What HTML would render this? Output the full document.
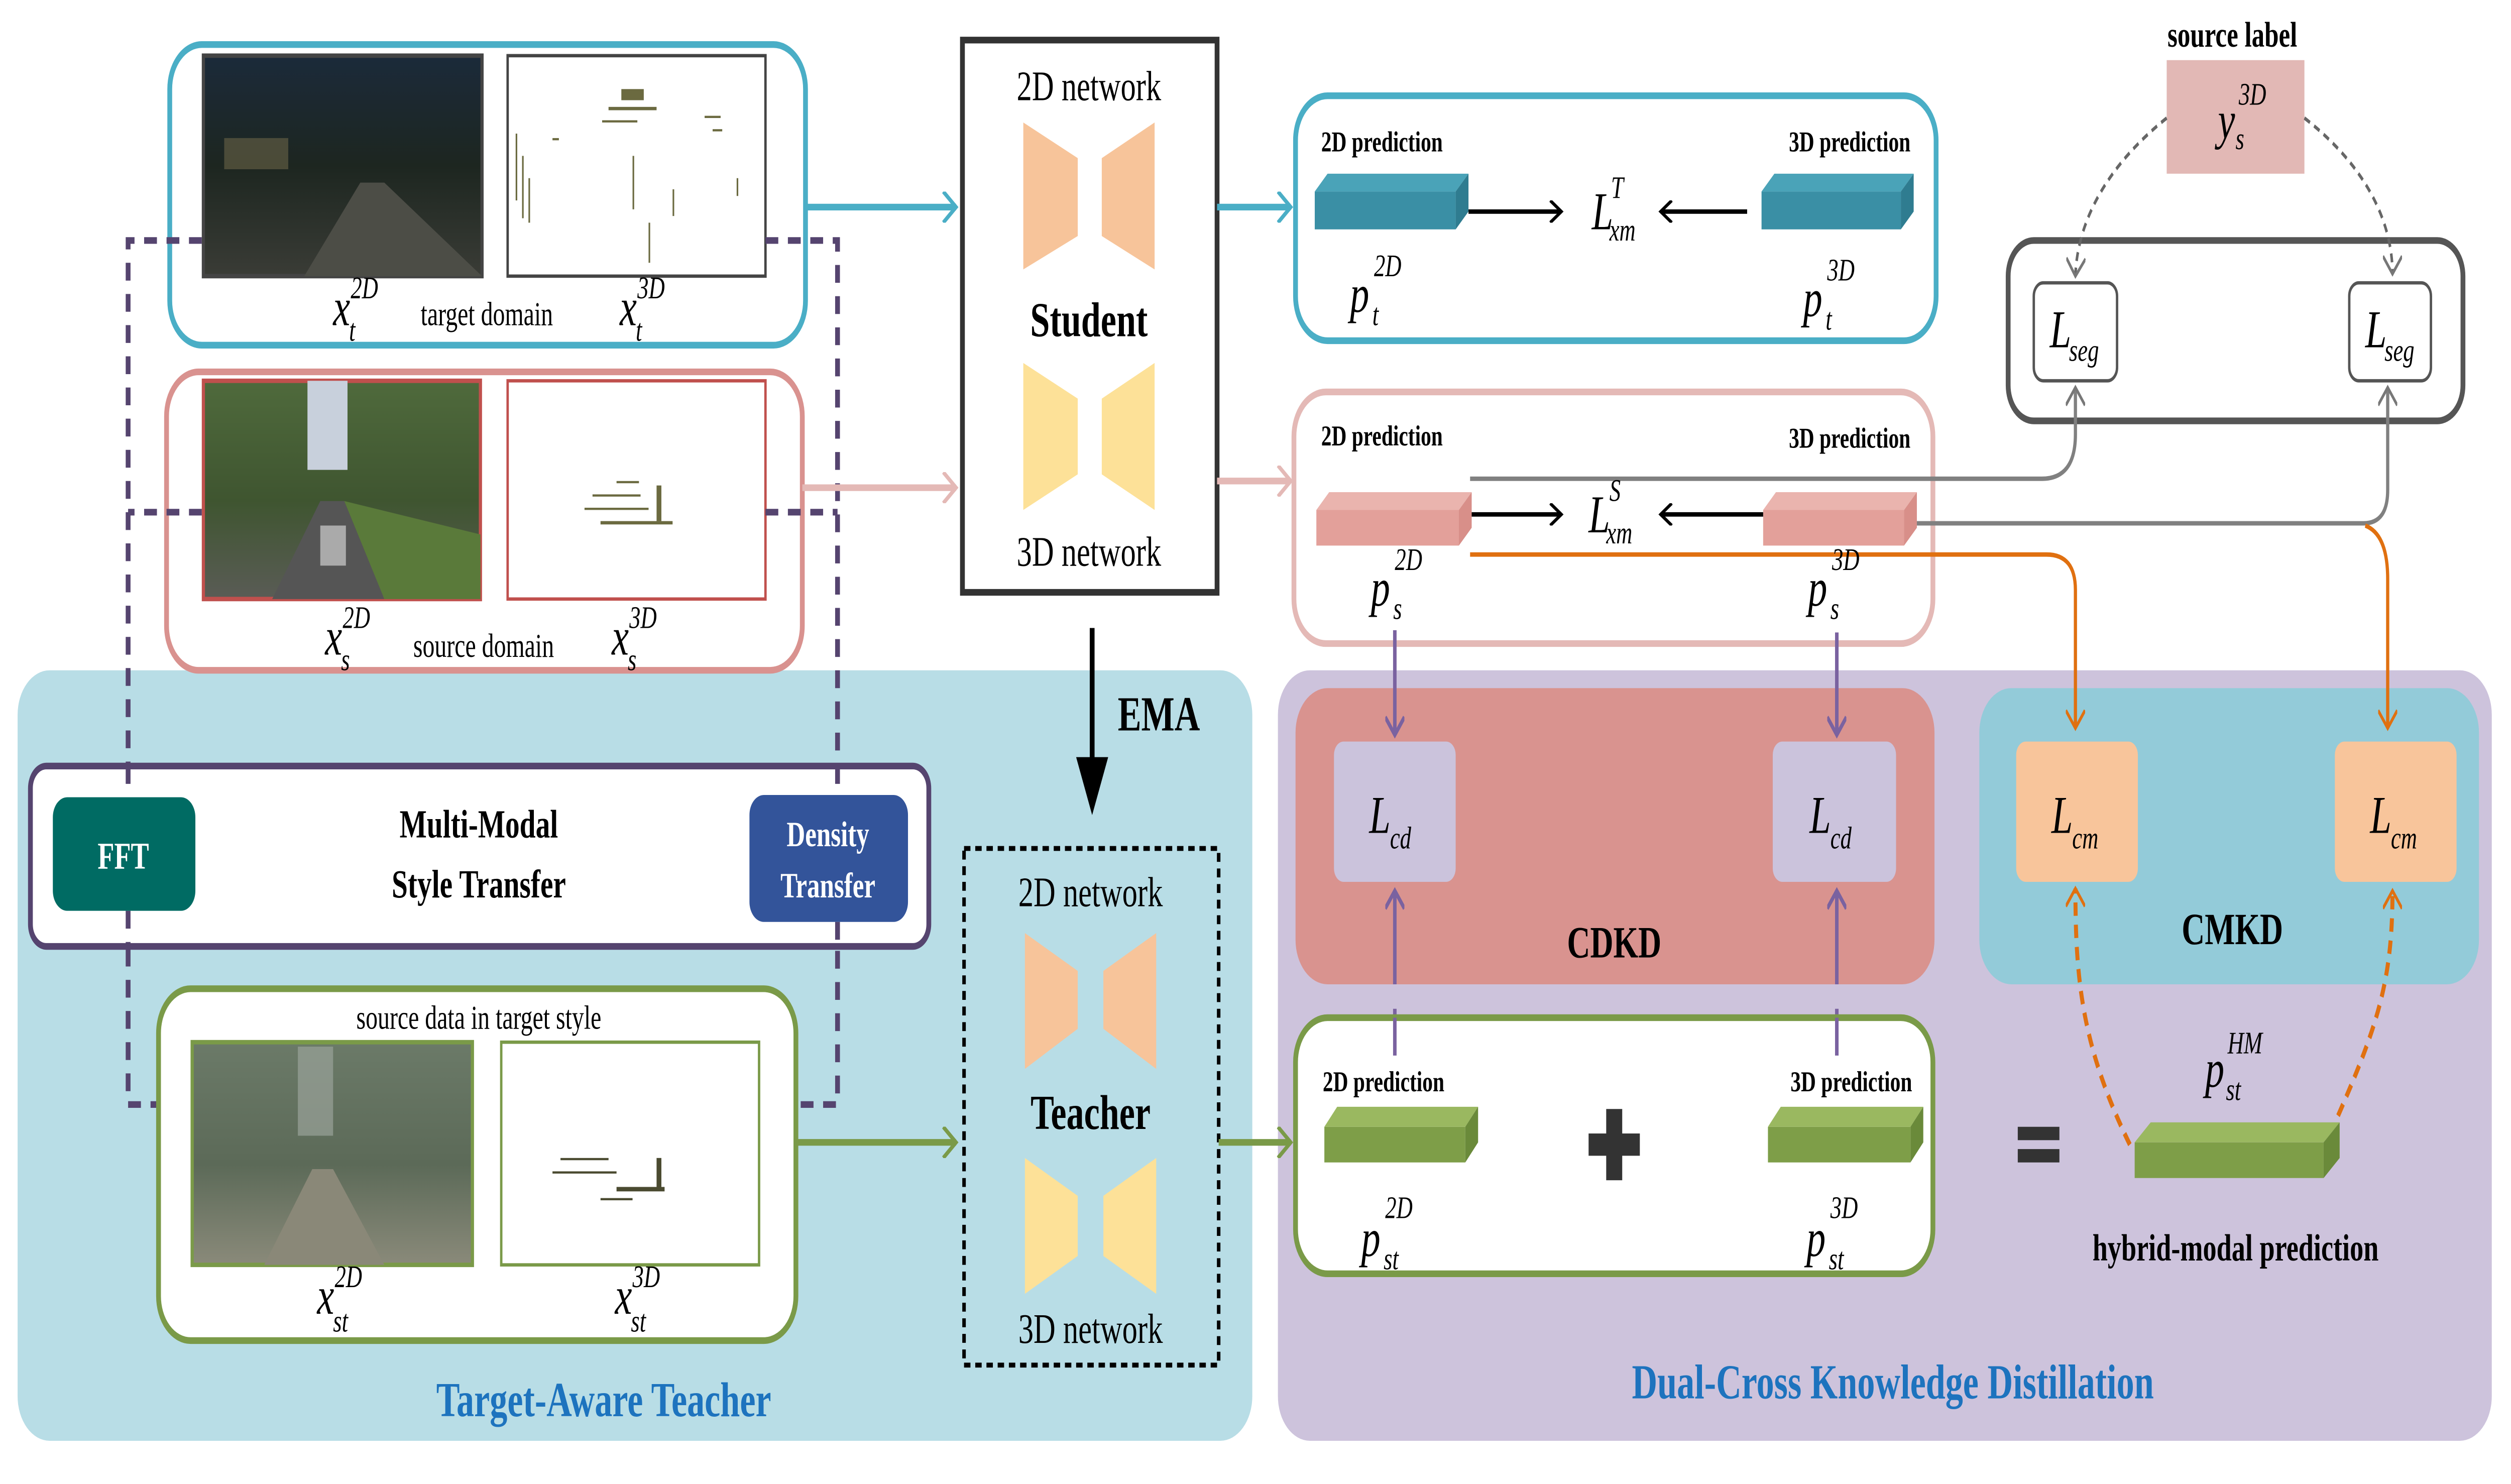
<!DOCTYPE html>
<html><head><meta charset="utf-8"><style>
html,body{margin:0;padding:0;background:#fff;width:100%;height:100%;overflow:hidden}
svg{display:block;width:100vw;height:100vh}
text{font-family:"Liberation Serif",serif}
.m{font-style:italic;font-size:24px}
.s{font-style:italic;font-size:14px}
.b{font-weight:bold}
</style></head><body>
<svg viewBox="0 0 1568 666.4" preserveAspectRatio="none" xmlns="http://www.w3.org/2000/svg">
<defs>
<marker id="ab" markerWidth="10" markerHeight="10" refX="8" refY="5" orient="auto" markerUnits="userSpaceOnUse"><path d="M1,0 L8,5 L1,10" fill="none" stroke="#000" stroke-width="1.6"/></marker>
<marker id="at" markerWidth="12" markerHeight="14" refX="9" refY="7" orient="auto" markerUnits="userSpaceOnUse"><path d="M1,0 L9,7 L1,14" fill="none" stroke="#4aaec6" stroke-width="2"/></marker>
<marker id="ap" markerWidth="12" markerHeight="14" refX="9" refY="7" orient="auto" markerUnits="userSpaceOnUse"><path d="M1,0 L9,7 L1,14" fill="none" stroke="#e4b9b6" stroke-width="2"/></marker>
<marker id="ag" markerWidth="12" markerHeight="14" refX="9" refY="7" orient="auto" markerUnits="userSpaceOnUse"><path d="M1,0 L9,7 L1,14" fill="none" stroke="#7a9a48" stroke-width="2"/></marker>
<marker id="agr" markerWidth="12" markerHeight="12" refX="9" refY="6" orient="auto" markerUnits="userSpaceOnUse"><path d="M1,0 L9,6 L1,12" fill="none" stroke="#777" stroke-width="1.5"/></marker>
<marker id="aor" markerWidth="12" markerHeight="12" refX="9" refY="6" orient="auto" markerUnits="userSpaceOnUse"><path d="M1,0 L9,6 L1,12" fill="none" stroke="#e07010" stroke-width="1.6"/></marker>
<marker id="apu" markerWidth="12" markerHeight="12" refX="9" refY="6" orient="auto" markerUnits="userSpaceOnUse"><path d="M1,0 L9,6 L1,12" fill="none" stroke="#7a62a0" stroke-width="2"/></marker>
<marker id="ada" markerWidth="12" markerHeight="14" refX="9" refY="7" orient="auto" markerUnits="userSpaceOnUse"><path d="M1,0 L9,7 L1,14" fill="none" stroke="#55446f" stroke-width="2.5"/></marker>
<linearGradient id="night" x1="0" y1="0" x2="0" y2="1"><stop offset="0" stop-color="#1b2a3a"/><stop offset="0.5" stop-color="#1d2620"/><stop offset="1" stop-color="#3a3c36"/></linearGradient>
<linearGradient id="day" x1="0" y1="0" x2="0" y2="1"><stop offset="0" stop-color="#4f6a3c"/><stop offset="0.55" stop-color="#3f5530"/><stop offset="1" stop-color="#5a5c56"/></linearGradient>
<linearGradient id="sty" x1="0" y1="0" x2="0" y2="1"><stop offset="0" stop-color="#6b7a68"/><stop offset="0.55" stop-color="#5c6a58"/><stop offset="1" stop-color="#8a8a7a"/></linearGradient>
</defs>

<rect x="11" y="301" width="771" height="346" rx="20" fill="#b8dde6"/>
<rect x="798" y="301" width="758" height="346" rx="20" fill="#cdc3dc"/>
<rect x="809" y="309" width="399" height="133" rx="20" fill="#d9938f"/>
<rect x="1236" y="309" width="312" height="133" rx="20" fill="#93cbd9"/>

<rect x="106" y="20" width="397" height="135" rx="20" fill="#fff" stroke="#4aaec6" stroke-width="3"/>
<rect x="127" y="25" width="174" height="99" fill="url(#night)" stroke="#444" stroke-width="2"/>
<path d="M190,124 L225,82 L240,82 L301,124Z" fill="#4c4d46"/>
<rect x="140" y="62" width="40" height="14" fill="#6b6448" opacity="0.6"/>
<rect x="317" y="25" width="161" height="99" fill="#fff" stroke="#444" stroke-width="1.5"/>
<g fill="#6b6a40">
<rect x="388" y="40" width="14" height="5"/><rect x="380" y="48" width="30" height="1.5"/><rect x="376" y="54" width="22" height="1"/>
<rect x="322" y="60" width="1" height="30"/><rect x="326" y="70" width="1" height="28"/><rect x="330" y="80" width="1" height="20"/>
<rect x="440" y="52" width="10" height="1"/><rect x="445" y="58" width="6" height="1"/><rect x="395" y="70" width="1" height="24"/><rect x="420" y="85" width="1" height="12"/>
<rect x="460" y="80" width="1" height="8"/><rect x="345" y="62" width="4" height="1"/><rect x="405" y="100" width="1" height="18"/>
</g>
<text x="304" y="146" font-size="15" text-anchor="middle">target domain</text>
<text x="208" y="146" class="m">x</text><text x="219" y="134" class="s">2D</text><text x="218" y="153" class="s">t</text>
<text x="387" y="146" class="m">x</text><text x="398" y="134" class="s">3D</text><text x="397" y="153" class="s">t</text>

<rect x="104" y="167" width="397" height="134" rx="20" fill="#fff" stroke="#d9928f" stroke-width="3"/>
<rect x="127" y="171" width="173" height="98" fill="url(#day)" stroke="#c0504d" stroke-width="2"/>
<rect x="192" y="171" width="25" height="40" fill="#c8d0dc"/>
<path d="M170,269 L200,225 L215,225 L240,269Z" fill="#555"/>
<path d="M240,269 L215,225 L300,240 L300,269Z" fill="#5a7a3a"/>
<rect x="200" y="236" width="16" height="18" fill="#aaa"/>
<rect x="317" y="171" width="161" height="98" fill="#fff" stroke="#c0504d" stroke-width="1.5"/>
<g fill="#6b6a40"><rect x="370" y="222" width="30" height="1"/><rect x="365" y="228" width="40" height="1"/><rect x="375" y="234" width="45" height="1.5"/><rect x="410" y="218" width="3" height="16"/><rect x="385" y="216" width="14" height="1"/></g>
<text x="302" y="295" font-size="15" text-anchor="middle">source domain</text>
<text x="203" y="294" class="m">x</text><text x="214" y="282" class="s">2D</text><text x="213" y="301" class="s">s</text>
<text x="382" y="294" class="m">x</text><text x="393" y="282" class="s">3D</text><text x="392" y="301" class="s">s</text>

<g stroke="#55446f" stroke-width="3" fill="none" stroke-dasharray="8,6">
<path d="M126,108 H80 V496 H116" marker-end="url(#ada)"/>
<path d="M126,230 H80"/>
<path d="M478,108 H523 V496 H480" marker-end="url(#ada)"/>
<path d="M478,230 H523"/>
</g>

<path d="M503,93 H597" stroke="#4aaec6" stroke-width="3" fill="none" marker-end="url(#at)"/>
<path d="M501,219 H597" stroke="#e4b9b6" stroke-width="3" fill="none" marker-end="url(#ap)"/>

<rect x="601" y="18" width="159" height="248" fill="#fff" stroke="#333" stroke-width="3"/>
<text x="680" y="45" font-size="19" text-anchor="middle">2D network</text>
<path d="M639,55 L673,71 L673,106 L639,121Z M721,55 L688,71 L688,106 L721,121Z" fill="#f7c49a"/>
<text x="680" y="151" font-size="22" class="b" text-anchor="middle">Student</text>
<path d="M639,163 L673,179 L673,213 L639,229Z M721,163 L688,179 L688,213 L721,229Z" fill="#fde198"/>
<text x="680" y="254" font-size="19" text-anchor="middle">3D network</text>

<path d="M682,282 V345" stroke="#000" stroke-width="3"/>
<path d="M672,340 L692,340 L682,366Z" fill="#000"/>
<text x="698" y="328" font-size="22" class="b">EMA</text>

<rect x="19" y="344" width="561" height="81" rx="10" fill="#fff" stroke="#55446f" stroke-width="3"/>
<rect x="33" y="358" width="89" height="51" rx="9" fill="#006b63"/>
<text x="77" y="390" font-size="17" fill="#fff" class="b" text-anchor="middle">FFT</text>
<rect x="468" y="357" width="99" height="57" rx="9" fill="#33549a"/>
<text x="517" y="380" font-size="16" fill="#fff" class="b" text-anchor="middle">Density</text>
<text x="517" y="403" font-size="16" fill="#fff" class="b" text-anchor="middle">Transfer</text>
<text x="299" y="376" font-size="18" class="b" text-anchor="middle">Multi-Modal</text>
<text x="299" y="403" font-size="18" class="b" text-anchor="middle">Style Transfer</text>
<g stroke="#55446f" stroke-width="3" stroke-dasharray="8,6"><path d="M80,344 V358 M80,409 V425 M523,344 V357 M523,414 V425"/></g>

<rect x="99" y="444" width="398" height="158" rx="20" fill="#fff" stroke="#7a9a48" stroke-width="3"/>
<text x="299" y="462" font-size="15" text-anchor="middle">source data in target style</text>
<rect x="120" y="468" width="175" height="100" fill="url(#sty)" stroke="#7a9a48" stroke-width="2"/>
<rect x="186" y="470" width="22" height="40" fill="#9aa29a" opacity="0.7"/>
<path d="M165,568 L195,525 L208,525 L240,568Z" fill="#8a8878"/>
<rect x="313" y="468" width="161" height="100" fill="#fff" stroke="#7a9a48" stroke-width="1.5"/>
<g fill="#4a4a30"><rect x="350" y="520" width="30" height="1"/><rect x="345" y="526" width="40" height="1"/><rect x="385" y="533" width="30" height="2"/><rect x="410" y="520" width="3" height="14"/><rect x="375" y="538" width="20" height="1"/></g>
<text x="198" y="590" class="m">x</text><text x="209" y="578" class="s">2D</text><text x="208" y="598" class="s">st</text>
<text x="384" y="590" class="m">x</text><text x="395" y="578" class="s">3D</text><text x="394" y="598" class="s">st</text>
<path d="M497,513 H597" stroke="#7a9a48" stroke-width="3" fill="none" marker-end="url(#ag)"/>

<rect x="602" y="381" width="159" height="232" fill="none" stroke="#000" stroke-width="2.2" stroke-dasharray="4,3"/>
<text x="681" y="407" font-size="19" text-anchor="middle">2D network</text>
<path d="M640,419 L673,436 L673,462 L640,480Z M722,419 L689,436 L689,462 L722,480Z" fill="#f7c49a"/>
<text x="681" y="507" font-size="22" class="b" text-anchor="middle">Teacher</text>
<path d="M640,520 L673,537 L673,564 L640,581Z M722,520 L689,537 L689,564 L722,581Z" fill="#fde198"/>
<text x="681" y="603" font-size="19" text-anchor="middle">3D network</text>
<text x="377" y="636" font-size="22" class="b" fill="#1d73be" text-anchor="middle">Target-Aware Teacher</text>

<path d="M760,93 H806" stroke="#4aaec6" stroke-width="3" fill="none" marker-end="url(#at)"/>
<path d="M760,216 H806" stroke="#e4b9b6" stroke-width="3" fill="none" marker-end="url(#ap)"/>
<path d="M761,513 H806" stroke="#7a9a48" stroke-width="3" fill="none" marker-end="url(#ag)"/>

<rect x="809" y="43" width="400" height="110" rx="20" fill="#fff" stroke="#4aaec6" stroke-width="3"/>
<text x="825" y="68" font-size="13" class="b">2D prediction</text>
<text x="1193" y="68" font-size="13" class="b" text-anchor="end">3D prediction</text>
<g fill="#3a8fa5"><rect x="821" y="86" width="88" height="17"/><rect x="1100" y="86" width="87" height="17"/></g>
<g fill="#4aa3b8"><path d="M821,86 L829,78 L917,78 L909,86Z M1100,86 L1108,78 L1195,78 L1187,86Z"/></g>
<g fill="#2f7c90"><path d="M909,86 L917,78 L917,95 L909,103Z M1187,86 L1195,78 L1195,95 L1187,103Z"/></g>
<path d="M917,95 H975" stroke="#000" stroke-width="2" fill="none" marker-end="url(#ab)"/>
<path d="M1091,95 H1037" stroke="#000" stroke-width="2" fill="none" marker-end="url(#ab)"/>
<text x="994" y="103" class="m" font-size="22">L</text><text x="1006" y="89" class="s" font-size="11">T</text><text x="1005" y="108" class="s" font-size="11">xm</text>
<text x="843" y="140" class="m" font-size="26">p</text><text x="858" y="124" class="s" font-size="15">2D</text><text x="857" y="146" class="s" font-size="15">t</text>
<text x="1126" y="142" class="m" font-size="26">p</text><text x="1141" y="126" class="s" font-size="15">3D</text><text x="1140" y="148" class="s" font-size="15">t</text>

<text x="1394" y="21" font-size="16" class="b" text-anchor="middle">source label</text>
<rect x="1353" y="27" width="86" height="51" fill="#e2b8b5"/>
<text x="1385" y="62" class="m" font-size="22">y</text><text x="1398" y="47" class="s" font-size="13">3D</text><text x="1396" y="67" class="s" font-size="13">s</text>
<rect x="1254" y="108" width="284" height="81" rx="16" fill="#fff" stroke="#555" stroke-width="3"/>
<rect x="1270" y="127" width="52" height="44" rx="6" fill="#fff" stroke="#555" stroke-width="1.5"/>
<rect x="1467" y="127" width="51" height="44" rx="6" fill="#fff" stroke="#555" stroke-width="1.5"/>
<text x="1280" y="156" class="m" font-size="22">L</text><text x="1292" y="162" class="s" font-size="14">seg</text>
<text x="1477" y="156" class="m" font-size="22">L</text><text x="1489" y="162" class="s" font-size="14">seg</text>
<g stroke="#666" stroke-width="1.6" fill="none" stroke-dasharray="4,3">
<path d="M1353,53 C1315,75 1297,100 1296,124" marker-end="url(#agr)"/>
<path d="M1439,53 C1478,75 1494,100 1494,123" marker-end="url(#agr)"/>
</g>

<rect x="808" y="176" width="399" height="113" rx="20" fill="#fff" stroke="#e4b9b6" stroke-width="3"/>
<text x="825" y="200" font-size="13" class="b">2D prediction</text>
<text x="1193" y="201" font-size="13" class="b" text-anchor="end">3D prediction</text>
<g fill="#e3a09a"><rect x="822" y="229" width="89" height="16"/><rect x="1101" y="229" width="88" height="16"/></g>
<g fill="#eab4ae"><path d="M822,229 L830,221 L919,221 L911,229Z M1101,229 L1109,221 L1197,221 L1189,229Z"/></g>
<g fill="#d88f89"><path d="M911,229 L919,221 L919,237 L911,245Z M1189,229 L1197,221 L1197,237 L1189,245Z"/></g>
<path d="M918,215 H1275 Q1296,215 1296,195 V174" stroke="#808080" stroke-width="2" fill="none" marker-end="url(#agr)"/>
<path d="M1197,235 H1476 Q1491,235 1491,220 V174" stroke="#808080" stroke-width="2" fill="none" marker-end="url(#agr)"/>
<path d="M918,249 H1278 Q1296,249 1296,265 V327" stroke="#e07010" stroke-width="2" fill="none" marker-end="url(#aor)"/>
<path d="M1477,236 Q1491,240 1491,260 V327" stroke="#e07010" stroke-width="2" fill="none" marker-end="url(#aor)"/>
<path d="M919,231 H975" stroke="#000" stroke-width="2" fill="none" marker-end="url(#ab)"/>
<path d="M1101,231 H1037" stroke="#000" stroke-width="2" fill="none" marker-end="url(#ab)"/>
<text x="992" y="239" class="m" font-size="22">L</text><text x="1005" y="225" class="s" font-size="11">S</text><text x="1003" y="244" class="s" font-size="11">xm</text>
<text x="856" y="272" class="m" font-size="26">p</text><text x="871" y="256" class="s" font-size="15">2D</text><text x="870" y="278" class="s" font-size="15">s</text>
<text x="1129" y="272" class="m" font-size="26">p</text><text x="1144" y="256" class="s" font-size="15">3D</text><text x="1143" y="278" class="s" font-size="15">s</text>

<path d="M871,283 V330" stroke="#7a62a0" stroke-width="2.2" fill="none" marker-end="url(#apu)"/>
<path d="M1147,284 V330" stroke="#7a62a0" stroke-width="2.2" fill="none" marker-end="url(#apu)"/>

<rect x="833" y="333" width="76" height="63" rx="6" fill="#cbc3dc"/>
<rect x="1107" y="333" width="77" height="63" rx="6" fill="#cbc3dc"/>
<rect x="1259" y="333" width="76" height="63" rx="6" fill="#f8c59b"/>
<rect x="1458" y="333" width="76" height="63" rx="6" fill="#f8c59b"/>
<text x="855" y="374" class="m" font-size="24">L</text><text x="868" y="381" class="s" font-size="15">cd</text>
<text x="1130" y="374" class="m" font-size="24">L</text><text x="1143" y="381" class="s" font-size="15">cd</text>
<text x="1281" y="374" class="m" font-size="24">L</text><text x="1294" y="381" class="s" font-size="15">cm</text>
<text x="1480" y="374" class="m" font-size="24">L</text><text x="1493" y="381" class="s" font-size="15">cm</text>
<text x="1008" y="430" font-size="20" class="b" text-anchor="middle">CDKD</text>
<text x="1394" y="424" font-size="20" class="b" text-anchor="middle">CMKD</text>

<path d="M871,442 V400" stroke="#7a62a0" stroke-width="2.2" fill="none" marker-end="url(#apu)"/>
<path d="M871,453 V474" stroke="#7a62a0" stroke-width="2.2"/>
<path d="M1147,442 V400" stroke="#7a62a0" stroke-width="2.2" fill="none" marker-end="url(#apu)"/>
<path d="M1147,453 V474" stroke="#7a62a0" stroke-width="2.2"/>

<rect x="809" y="457" width="398" height="115" rx="20" fill="#fff" stroke="#7a9a48" stroke-width="3"/>
<path d="M871,457 V474 M1147,457 V474" stroke="#7a62a0" stroke-width="2.2"/>
<text x="826" y="490" font-size="13" class="b">2D prediction</text>
<text x="1194" y="490" font-size="13" class="b" text-anchor="end">3D prediction</text>
<g fill="#7e9e48"><rect x="827" y="506" width="88" height="16"/><rect x="1104" y="506" width="89" height="16"/><rect x="1333" y="513" width="118" height="16"/></g>
<g fill="#9ab860"><path d="M827,506 L835,497 L923,497 L915,506Z M1104,506 L1112,497 L1201,497 L1193,506Z M1333,513 L1343,504 L1461,504 L1451,513Z"/></g>
<g fill="#6a8a3a"><path d="M915,506 L923,497 L923,513 L915,522Z M1193,506 L1201,497 L1201,513 L1193,522Z M1451,513 L1461,504 L1461,520 L1451,529Z"/></g>
<rect x="1003" y="498" width="10" height="32" fill="#333"/><rect x="992" y="509" width="32" height="10" fill="#333"/>
<rect x="1260" y="506" width="26" height="6" fill="#333"/><rect x="1260" y="516" width="26" height="6" fill="#333"/>
<text x="850" y="564" class="m" font-size="26">p</text><text x="865" y="547" class="s" font-size="15">2D</text><text x="864" y="570" class="s" font-size="15">st</text>
<text x="1128" y="564" class="m" font-size="26">p</text><text x="1143" y="547" class="s" font-size="15">3D</text><text x="1142" y="570" class="s" font-size="15">st</text>
<text x="1377" y="488" class="m" font-size="24">p</text><text x="1391" y="473" class="s" font-size="14">HM</text><text x="1390" y="494" class="s" font-size="14">st</text>
<text x="1396" y="566" font-size="17" class="b" text-anchor="middle">hybrid-modal  prediction</text>

<g stroke="#e07010" stroke-width="2.5" fill="none" stroke-dasharray="6,4">
<path d="M1330,514 C1300,470 1296,440 1296,399" marker-end="url(#aor)"/>
<path d="M1460,501 C1485,460 1494,440 1494,400" marker-end="url(#aor)"/>
</g>

<text x="1182" y="628" font-size="22" class="b" fill="#1d73be" text-anchor="middle">Dual-Cross Knowledge Distillation</text>
</svg>
</body></html>
